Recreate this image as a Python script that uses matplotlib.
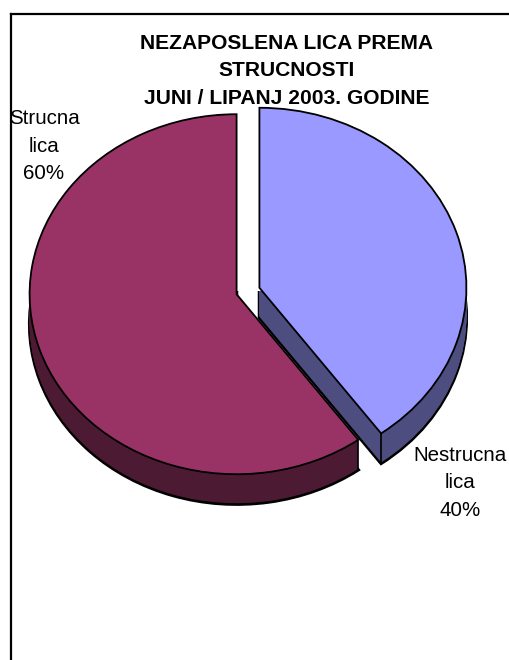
import numpy as np
import matplotlib
matplotlib.use("Agg")
import matplotlib.pyplot as plt
from matplotlib.patches import Rectangle

plt.rcParams["font.family"] = ["Liberation Sans", "DejaVu Sans"]

# data
CATEGORIES = ["Nestrucna\nlica", "Strucna\nlica"]
VALUES = [40, 60]
TOP_COLORS = ["#9999FF", "#993366"]
SIDE_COLORS = ["#4D4D80", "#4D1A33"]
TITLE = "NEZAPOSLENA LICA PREMA\nSTRUCNOSTI\nJUNI / LIPANJ 2003. GODINE"

W, H = 510, 660
SQUASH = 180 / 207  # pie tilt, y shrink of the ellipse
RADIUS = 207
DEPTH = 30
EXPLODE = [12, 12]  # pie takes this in data units, not as share of the radius
CENTER_X, CENTER_Y = 248, 291


def to_y(py):
    return (H - py) / SQUASH


fig = plt.figure(figsize=(W / 100, H / 100), dpi=100, facecolor="white")

# chart border, only left and top fall inside the picture
frame = fig.add_axes([11 / W, 0, 1 - 11 / W, 1 - 14 / H])
frame.set_xticks([])
frame.set_yticks([])
frame.spines["right"].set_visible(False)
frame.spines["bottom"].set_visible(False)
frame.spines["left"].set_linewidth(1.6)
frame.spines["top"].set_linewidth(1.6)

ax = fig.add_axes([0, 0, 1, 1])
ax.patch.set_alpha(0)

# side layers stay below the pie centre, else they leak into the gap
lower_half = Rectangle((0, 0), W, to_y(CENTER_Y), transform=ax.transData)


def draw_pie(shift, colors, **wedgeprops):
    wedges, _ = ax.pie(
        VALUES,
        colors=colors,
        explode=EXPLODE,
        radius=RADIUS,
        center=(CENTER_X, to_y(CENTER_Y + shift)),
        startangle=90,
        counterclock=False,
        wedgeprops=wedgeprops,
    )
    if shift > 0:
        for wedge in wedges:
            # pie switches clipping off
            wedge.set_clip_on(True)
            wedge.set_clip_path(lower_half)
    return wedges


# side of the pie is a stack of dark layers, only the lowest has an outline
draw_pie(DEPTH, SIDE_COLORS, edgecolor="black", linewidth=2.4)
for shift in range(DEPTH - 1, 0, -1):
    draw_pie(shift, SIDE_COLORS, edgecolor="none", linewidth=0)

top = draw_pie(0, TOP_COLORS, edgecolor="black", linewidth=1.3, zorder=5)

# vertical edge under the tip of each slice
tip_angles = [top[0].theta1, top[1].theta2]
for wedge, angle in zip(top, tip_angles):
    x = wedge.center[0] + wedge.r * np.cos(np.radians(angle))
    y = wedge.center[1] + wedge.r * np.sin(np.radians(angle))
    ax.plot([x, x], [y, y - DEPTH / SQUASH], color="black", lw=1.2, zorder=4)

ax.set_aspect("auto")
ax.set_xlim(0, W)
ax.set_ylim(0, H / SQUASH)
ax.set_axis_off()

fig.text(287 / W, 1 - 71 / H, TITLE, ha="center", va="center", fontsize=15.1,
         fontweight="bold", linespacing=1.58, color="black", zorder=10)

fig.text(460 / W, 1 - 483 / H, f"{CATEGORIES[0]}\n{VALUES[0]}%", ha="center",
         va="center", fontsize=14.8, linespacing=1.57, color="black", zorder=10)
fig.text(44 / W, 1 - 146 / H, f"{CATEGORIES[1]}\n{VALUES[1]}%", ha="center",
         va="center", fontsize=14.8, linespacing=1.57, color="black", zorder=10)

fig.savefig("out.png", dpi=100, facecolor="white")
